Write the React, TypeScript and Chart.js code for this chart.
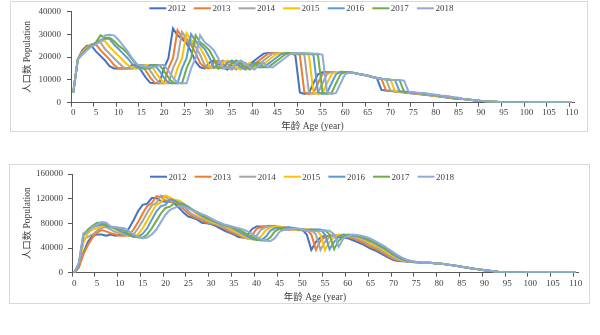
import React, { useEffect, useRef } from 'react';
import { Chart, registerables } from 'chart.js';

Chart.register(...registerables);

// ---------- data ----------
const AGES: string[] = Array.from({ length: 111 }, (_, i) => String(i));
const YEARS = ['2012', '2013', '2014', '2015', '2016', '2017', '2018'];
const TOP_Y_TICKS = [0, 10000, 20000, 30000, 40000];
const BOTTOM_Y_TICKS = [0, 40000, 80000, 120000, 160000];
const Y_TITLE = '人口数 Population';
const X_TITLE = '年龄 Age (year)';

const TOP_2012 = [
  4500, 19000, 23000, 25000, 25000, 22500, 20500, 18500, 16000, 15000,
  15000, 15000, 15000, 16500, 16500, 14000, 11000, 8700, 8500, 8500,
  15000, 19500, 32500, 29500, 28000, 26000, 22500, 18000, 15500, 15000,
  17500, 18500, 17000, 15500, 14500, 16500, 17500, 15500, 15500, 17000,
  18500, 20000, 21500, 21800, 21800, 21700, 21600, 21500, 21400, 21000,
  4500, 3800, 4300, 8500, 12500, 13300, 13500, 13500, 13500, 13500,
  13400, 13200, 13000, 12600, 12200, 11800, 11300, 10800, 5600, 5300,
  5100, 4900, 4700, 4450, 4200, 4000, 3800, 3600, 3400, 3100,
  2900, 2600, 2400, 2100, 1800, 1600,
  1600, 1400, 1200, 1000, 800, 650, 500, 400, 300, 220, 160, 110, 80, 60, 40, 30, 20, 15, 10, 8, 5, 3, 2, 1, 1,
];
const TOP_2013 = [
  4500, 19000, 22500, 24500, 25500, 25500, 23000, 21000, 19000, 16500,
  15000, 15000, 15000, 15000, 16500, 16500, 14000, 11000, 8700, 8500,
  8500, 15000, 19500, 31800, 28800, 27300, 25300, 21800, 17300, 15500,
  15000, 17500, 18500, 17000, 15500, 14500, 16500, 17500, 15500, 15500,
  17000, 18500, 20000, 21500, 21800, 21800, 21700, 21600, 21500, 21400,
  21000, 4500, 3800, 4300, 8500, 12500, 13500, 13500, 13500, 13500,
  13400, 13200, 13000, 12600, 12200, 11800, 11300, 10800, 10500, 5400,
  5200, 5000, 4800, 4550, 4300, 4100, 3900, 3700, 3500, 3200,
  3000, 2700, 2500, 2200, 1900, 1700,
  1600, 1400, 1200, 1000, 800, 650, 500, 400, 300, 220, 160, 110, 80, 60, 40, 30, 20, 15, 10, 8, 5, 3, 2, 1, 1,
];
const TOP_2014 = [
  4500, 19000, 22000, 24000, 25500, 26000, 26500, 23500, 21500, 19500,
  17500, 15500, 15000, 15000, 15000, 16500, 16500, 14000, 11000, 8700,
  8500, 8500, 15000, 19500, 31000, 28000, 26500, 24500, 21000, 16500,
  15500, 15000, 17500, 18500, 17000, 15500, 14500, 16500, 17500, 15500,
  15500, 17000, 18500, 20000, 21500, 21800, 21800, 21700, 21600, 21500,
  21400, 21000, 4500, 3800, 4300, 8500, 12500, 13500, 13500, 13500,
  13400, 13200, 13000, 12600, 12200, 11800, 11300, 10800, 10500, 10300,
  5300, 5100, 4900, 4650, 4400, 4200, 4000, 3800, 3600, 3300,
  3100, 2800, 2600, 2300, 2000, 1800,
  1600, 1400, 1200, 1000, 800, 650, 500, 400, 300, 220, 160, 110, 80, 60, 40, 30, 20, 15, 10, 8, 5, 3, 2, 1, 1,
];
const TOP_2015 = [
  4500, 19000, 22000, 24000, 25000, 26000, 27000, 27000, 24500, 22500,
  20500, 18500, 16500, 15500, 15000, 15000, 16500, 16500, 14000, 11000,
  8700, 8500, 8500, 15000, 19500, 30500, 27500, 26000, 24000, 20500,
  16000, 15500, 15000, 17500, 18500, 17000, 15500, 14500, 16500, 17500,
  15500, 15500, 17000, 18500, 20000, 21500, 21800, 21800, 21700, 21600,
  21500, 21400, 21000, 4500, 3800, 4300, 8500, 12500, 13500, 13500,
  13400, 13200, 13000, 12600, 12200, 11800, 11300, 10800, 10500, 10300,
  10100, 5100, 4900, 4750, 4500, 4300, 4100, 3900, 3700, 3400,
  3200, 2900, 2700, 2400, 2100, 1900,
  1600, 1400, 1200, 1000, 800, 650, 500, 400, 300, 220, 160, 110, 80, 60, 40, 30, 20, 15, 10, 8, 5, 3, 2, 1, 1,
];
const TOP_2016 = [
  4500, 19000, 21500, 23500, 25000, 26000, 27500, 28000, 28000, 25500,
  23500, 21500, 19500, 17000, 15500, 15000, 15000, 16500, 16500, 14000,
  11000, 8700, 8500, 8500, 15000, 19500, 30000, 27000, 25500, 23500,
  20000, 15500, 15500, 15000, 17500, 18500, 17000, 15500, 14500, 16500,
  17500, 15500, 15500, 17000, 18500, 20000, 21500, 21800, 21800, 21700,
  21600, 21500, 21400, 21000, 4500, 3800, 4300, 8500, 12500, 13500,
  13400, 13200, 13000, 12600, 12200, 11800, 11300, 10800, 10500, 10300,
  10100, 10000, 5000, 4850, 4600, 4400, 4200, 4000, 3800, 3500,
  3300, 3000, 2800, 2500, 2200, 2000,
  1600, 1400, 1200, 1000, 800, 650, 500, 400, 300, 220, 160, 110, 80, 60, 40, 30, 20, 15, 10, 8, 5, 3, 2, 1, 1,
];
const TOP_2017 = [
  4500, 19000, 21500, 23500, 25000, 26500, 29500, 28500, 28500, 27000,
  25000, 23500, 21500, 19000, 16500, 15500, 15000, 15000, 16500, 16500,
  14000, 11000, 8700, 8500, 8500, 15000, 19500, 29500, 26500, 25000,
  23000, 19500, 15000, 15500, 15000, 17500, 18500, 17000, 15500, 14500,
  16500, 17500, 15500, 15500, 17000, 18500, 20000, 21500, 21800, 21800,
  21700, 21600, 21500, 21400, 21000, 4500, 3800, 4300, 8500, 12500,
  13400, 13200, 13000, 12600, 12200, 11800, 11300, 10800, 10500, 10300,
  10100, 10000, 9900, 4900, 4700, 4500, 4300, 4100, 3900, 3600,
  3400, 3100, 2900, 2600, 2300, 2100,
  1600, 1400, 1200, 1000, 800, 650, 500, 400, 300, 220, 160, 110, 80, 60, 40, 30, 20, 15, 10, 8, 5, 3, 2, 1, 1,
];
const TOP_2018 = [
  4500, 19000, 21000, 23000, 24500, 25500, 27000, 29500, 29800, 29500,
  27500, 25000, 22500, 19500, 17000, 16000, 15500, 15500, 15500, 16500,
  16500, 14000, 11000, 8700, 8500, 8500, 15000, 19500, 29500, 26500,
  25000, 23000, 19500, 15000, 15500, 15000, 17500, 18500, 17000, 15500,
  14500, 16500, 17500, 15500, 15500, 17000, 18500, 20000, 21500, 21800,
  21800, 21700, 21600, 21500, 21400, 21000, 4500, 3800, 4300, 8500,
  12500, 13200, 13000, 12600, 12200, 11800, 11300, 10800, 10500, 10300,
  10100, 10000, 9900, 9700, 4800, 4600, 4400, 4200, 4000, 3700,
  3500, 3200, 3000, 2700, 2400, 2200,
  1600, 1400, 1200, 1000, 800, 650, 500, 400, 300, 220, 160, 110, 80, 60, 40, 30, 20, 15, 10, 8, 5, 3, 2, 1, 1,
];

const BOT_2012 = [
  0, 10000, 32000, 50000, 60000, 62000, 62000, 60000, 62000, 60000,
  61000, 62000, 72000, 85000, 100000, 110000, 112000, 121000, 121000, 116000,
  115000, 116000, 112000, 105000, 97000, 91000, 89000, 86000, 81000, 80000,
  79000, 76000, 72000, 68000, 65000, 62000, 58000, 57000, 61000, 71000,
  75000, 75000, 75000, 76000, 73000, 71000, 70000, 70000, 71000, 70000,
  70000, 62000, 37000, 50000, 57000, 60000, 59000, 60000, 58000, 57000,
  56000, 53000, 50000, 47000, 43000, 39000, 36000, 32000, 28000, 24000,
  20500, 19000, 18500, 18000, 17500, 17000,
  16500, 16200, 16000, 15500, 15000, 14000, 13000, 12000, 11000, 9700, 8500, 7300, 6200, 5200,
  4000, 3100, 2300, 1600, 1100, 700, 450, 300, 200, 120, 80, 50, 30, 20, 12, 8, 5, 3, 2, 1, 1,
];
const BOT_2013 = [
  0, 8000, 30000, 45000, 57000, 65000, 69000, 67000, 64000, 62000,
  60000, 60000, 61000, 70000, 82000, 96000, 108000, 113000, 124000, 123000,
  117000, 115000, 114000, 110000, 103000, 96000, 91000, 88000, 85000, 81000,
  80000, 78000, 75000, 71000, 67000, 64000, 61000, 57000, 56000, 61000,
  71000, 74000, 75000, 75000, 76000, 73000, 71000, 70000, 70000, 71000,
  70000, 70000, 62000, 37000, 52000, 58000, 60000, 61000, 60000, 59000,
  58000, 56000, 53000, 50000, 46000, 42000, 39000, 35000, 31000, 26000,
  22000, 20000, 19000, 18000, 17500, 17000,
  16500, 16200, 16000, 15500, 15000, 14000, 13000, 12000, 11000, 9700, 8500, 7300, 6200, 5200,
  4000, 3100, 2300, 1600, 1100, 700, 450, 300, 200, 120, 80, 50, 30, 20, 12, 8, 5, 3, 2, 1, 1,
];
const BOT_2014 = [
  0, 12000, 55000, 58000, 62000, 68000, 73000, 74000, 70000, 66000,
  64000, 62000, 60000, 62000, 72000, 84000, 97000, 109000, 113000, 125000,
  123000, 117000, 115000, 113000, 108000, 100000, 94000, 90000, 87000, 84000,
  81000, 79000, 76000, 73000, 69000, 66000, 62000, 59000, 55000, 55000,
  60000, 70000, 74000, 75000, 75000, 75000, 73000, 71000, 70000, 70000,
  71000, 70000, 70000, 62000, 37000, 50000, 58000, 61000, 61000, 60000,
  59000, 58000, 56000, 53000, 49000, 45000, 42000, 38000, 33000, 29000,
  24000, 21000, 19500, 18500, 17500, 17000,
  16500, 16200, 16000, 15500, 15000, 14000, 13000, 12000, 11000, 9700, 8500, 7300, 6200, 5200,
  4000, 3100, 2300, 1600, 1100, 700, 450, 300, 200, 120, 80, 50, 30, 20, 12, 8, 5, 3, 2, 1, 1,
];
const BOT_2015 = [
  0, 14000, 48000, 65000, 70000, 72000, 75000, 77000, 75000, 70000,
  66000, 63000, 60000, 59000, 62000, 72000, 85000, 98000, 110000, 114000,
  125000, 122000, 118000, 117000, 112000, 106000, 100000, 94000, 90000, 86000,
  83000, 80000, 78000, 76000, 72000, 68000, 64000, 60000, 57000, 54000,
  54000, 59000, 69000, 73000, 74000, 74000, 74000, 72000, 70000, 69000,
  69000, 70000, 70000, 70000, 62000, 37000, 50000, 58000, 62000, 61000,
  60000, 59000, 58000, 55000, 52000, 48000, 44000, 41000, 36000, 31000,
  27000, 23000, 20000, 19000, 18000, 17200,
  16500, 16200, 16000, 15500, 15000, 14000, 13000, 12000, 11000, 9700, 8500, 7300, 6200, 5200,
  4000, 3100, 2300, 1600, 1100, 700, 450, 300, 200, 120, 80, 50, 30, 20, 12, 8, 5, 3, 2, 1, 1,
];
const BOT_2016 = [
  0, 13000, 60000, 68000, 74000, 76000, 78000, 76000, 74000, 72000,
  68000, 64000, 61000, 58000, 58000, 63000, 72000, 86000, 99000, 108000,
  110000, 119000, 117000, 113000, 111000, 107000, 102000, 97000, 92000, 88000,
  85000, 82000, 79000, 77000, 75000, 71000, 67000, 63000, 59000, 55000,
  53000, 53000, 58000, 68000, 72000, 73000, 73000, 74000, 72000, 70000,
  69000, 69000, 70000, 70000, 70000, 62000, 38000, 50000, 58000, 62000,
  61000, 60000, 59000, 57000, 54000, 51000, 47000, 43000, 39000, 34000,
  29000, 25000, 21500, 19500, 18200, 17300,
  16500, 16200, 16000, 15500, 15000, 14000, 13000, 12000, 11000, 9700, 8500, 7300, 6200, 5200,
  4000, 3100, 2300, 1600, 1100, 700, 450, 300, 200, 120, 80, 50, 30, 20, 12, 8, 5, 3, 2, 1, 1,
];
const BOT_2017 = [
  0, 15000, 62000, 70000, 76000, 81000, 81000, 78000, 74000, 73000,
  72000, 68000, 63000, 60000, 57000, 57000, 62000, 72000, 84000, 96000,
  105000, 107000, 113000, 112000, 109000, 106000, 102000, 98000, 94000, 89000,
  86000, 83000, 80000, 77000, 75000, 73000, 70000, 66000, 62000, 58000,
  54000, 52000, 52000, 57000, 67000, 71000, 72000, 72000, 73000, 71000,
  69000, 68000, 68000, 69000, 69000, 69000, 62000, 38000, 52000, 58000,
  62000, 61000, 60000, 59000, 56000, 53000, 49000, 45000, 41000, 36000,
  31000, 27000, 23000, 20000, 18500, 17500,
  16500, 16200, 16000, 15500, 15000, 14000, 13000, 12000, 11000, 9700, 8500, 7300, 6200, 5200,
  4000, 3100, 2300, 1600, 1100, 700, 450, 300, 200, 120, 80, 50, 30, 20, 12, 8, 5, 3, 2, 1, 1,
];
const BOT_2018 = [
  0, 16000, 64000, 67000, 74000, 78000, 82000, 81000, 75000, 74000,
  73000, 72000, 67000, 62000, 58000, 56000, 57000, 62000, 70000, 82000,
  94000, 102000, 105000, 108000, 107000, 104000, 101000, 98000, 95000, 92000,
  88000, 84000, 81000, 78000, 76000, 74000, 72000, 70000, 67000, 63000,
  58000, 54000, 52000, 51000, 56000, 66000, 70000, 71000, 71000, 72000,
  70000, 68000, 67000, 67000, 68000, 68000, 68000, 62000, 42000, 55000,
  60000, 62000, 61000, 60000, 58000, 55000, 51000, 47000, 43000, 38000,
  33000, 28000, 24000, 21000, 19000, 17500,
  16500, 16200, 16000, 15500, 15000, 14000, 13000, 12000, 11000, 9700, 8500, 7300, 6200, 5200,
  4000, 3100, 2300, 1600, 1100, 700, 450, 300, 200, 120, 80, 50, 30, 20, 12, 8, 5, 3, 2, 1, 1,
];

const TOP_SERIES = [TOP_2012, TOP_2013, TOP_2014, TOP_2015, TOP_2016, TOP_2017, TOP_2018];
const BOTTOM_SERIES = [BOT_2012, BOT_2013, BOT_2014, BOT_2015, BOT_2016, BOT_2017, BOT_2018];

// ---------- styles ----------
const COLORS = ['#4472C4', '#ED7D31', '#A5A5A5', '#FFC000', '#5B9BD5', '#70AD47', '#8FAADC'];
const FONT = "'Liberation Serif', 'Times New Roman', 'Noto Sans CJK SC', serif";
const TEXT = '#404040';
const AXIS = '#595959';

const overlayPlugin = {
  id: 'overlay',
  afterDraw(chart: any, _args: any, opts: any) {
    const ctx = chart.ctx as CanvasRenderingContext2D;
    ctx.save();
    ctx.font = `9px ${FONT}`;
    ctx.textBaseline = 'middle';
    ctx.textAlign = 'left';
    chart.data.datasets.forEach((ds: any, i: number) => {
      const x = opts.legendX + i * opts.legendStep;
      ctx.strokeStyle = ds.borderColor;
      ctx.lineWidth = 2;
      ctx.beginPath();
      ctx.moveTo(x, opts.legendY);
      ctx.lineTo(x + opts.lineLen, opts.legendY);
      ctx.stroke();
      ctx.fillStyle = TEXT;
      ctx.fillText(ds.label, x + opts.lineLen + 1.5, opts.legendY + 0.5);
    });
    ctx.font = `9.5px ${FONT}`;
    ctx.textAlign = 'center';
    ctx.fillStyle = TEXT;
    ctx.fillText(X_TITLE, opts.xTitleX, opts.xTitleY);
    ctx.restore();
  },
};

type Props = {
  series: number[][];
  yTicks: number[];
  top: number;
  height: number;
  padding: { left: number; right: number; top: number; bottom: number };
  yWidth: number;
  yPad: number;
  xPad: number;
  legendX: number;
  legendY: number;
  xTitleX: number;
  xTitleY: number;
};

function PopChart(p: Props) {
  const ref = useRef<HTMLCanvasElement>(null);
  useEffect(() => {
    const chart = new Chart(ref.current as HTMLCanvasElement, {
      type: 'line',
      data: {
        labels: AGES,
        datasets: p.series.map((d, i) => ({
          label: YEARS[i],
          data: d,
          borderColor: COLORS[i],
          backgroundColor: COLORS[i],
          borderWidth: 2,
          pointRadius: 0,
          pointHoverRadius: 0,
          tension: 0,
          fill: false,
          order: YEARS.length - i,
        })),
      },
      options: {
        responsive: false,
        maintainAspectRatio: false,
        animation: false,
        events: [],
        layout: { padding: p.padding },
        plugins: {
          legend: { display: false },
          tooltip: { enabled: false },
          overlay: {
            legendX: p.legendX,
            legendY: p.legendY,
            legendStep: 44.6,
            lineLen: 17,
            xTitleX: p.xTitleX,
            xTitleY: p.xTitleY,
          },
        } as any,
        scales: {
          x: {
            type: 'category',
            offset: true,
            grid: {
              offset: true,
              drawOnChartArea: false,
              drawTicks: true,
              tickLength: 4,
              color: 'rgba(0,0,0,0)',
              tickColor: (c: any) => (c.index !== undefined && c.index % 5 === 0 ? AXIS : 'rgba(0,0,0,0)'),
            },
            border: { display: true, color: AXIS, width: 1 },
            ticks: {
              autoSkip: false,
              maxRotation: 0,
              minRotation: 0,
              padding: p.xPad,
              color: TEXT,
              font: { family: FONT, size: 9 },
              callback: (_v: any, i: number) => (i % 5 === 0 ? AGES[i] : ''),
            },
            afterFit: (s: any) => {
              s.height = 30;
            },
          },
          y: {
            min: p.yTicks[0],
            max: p.yTicks[p.yTicks.length - 1],
            afterBuildTicks: (s: any) => {
              s.ticks = p.yTicks.map((v) => ({ value: v }));
            },
            grid: {
              drawOnChartArea: false,
              drawTicks: true,
              tickLength: 4,
              color: 'rgba(0,0,0,0)',
              tickColor: AXIS,
            },
            border: { display: true, color: AXIS, width: 1 },
            ticks: {
              padding: p.yPad,
              color: TEXT,
              font: { family: FONT, size: 9 },
              callback: (v: any) => String(v),
            },
            title: {
              display: true,
              text: Y_TITLE,
              color: TEXT,
              font: { family: FONT, size: 9.5 },
              padding: { top: 4, bottom: 0 },
            },
            afterFit: (s: any) => {
              s.width = p.yWidth;
            },
          },
        },
      } as any,
      plugins: [overlayPlugin],
    });
    return () => chart.destroy();
  }, []);
  return (
    <canvas
      ref={ref}
      width={600}
      height={p.height}
      style={{ position: 'absolute', left: 0, top: p.top, width: 600, height: p.height }}
    />
  );
}

export default function App() {
  return (
    <div style={{ position: 'fixed', left: 0, top: 0, width: 600, height: 335, background: '#fff', overflow: 'hidden' }}>
      <div style={{ position: 'absolute', left: 10, top: 1, width: 578, height: 131, border: '1px solid #D9D9D9', boxSizing: 'border-box' }} />
      <div style={{ position: 'absolute', left: 9, top: 164, width: 581, height: 140, border: '1px solid #D9D9D9', boxSizing: 'border-box' }} />
      <PopChart
        series={TOP_SERIES}
        yTicks={TOP_Y_TICKS}
        top={0}
        height={140}
        padding={{ left: 18, right: 26, top: 6.7, bottom: 7.3 }}
        yWidth={53}
        yPad={6}
        xPad={1}
        legendX={149.3}
        legendY={8.3}
        xTitleX={312.5}
        xTitleY={126}
      />
      <PopChart
        series={BOTTOM_SERIES}
        yTicks={BOTTOM_Y_TICKS}
        top={160}
        height={175}
        padding={{ left: 18, right: 22, top: 14, bottom: 32.3 }}
        yWidth={54}
        yPad={5}
        xPad={2}
        legendX={150}
        legendY={16.7}
        xTitleX={315}
        xTitleY={137.7}
      />
    </div>
  );
}
